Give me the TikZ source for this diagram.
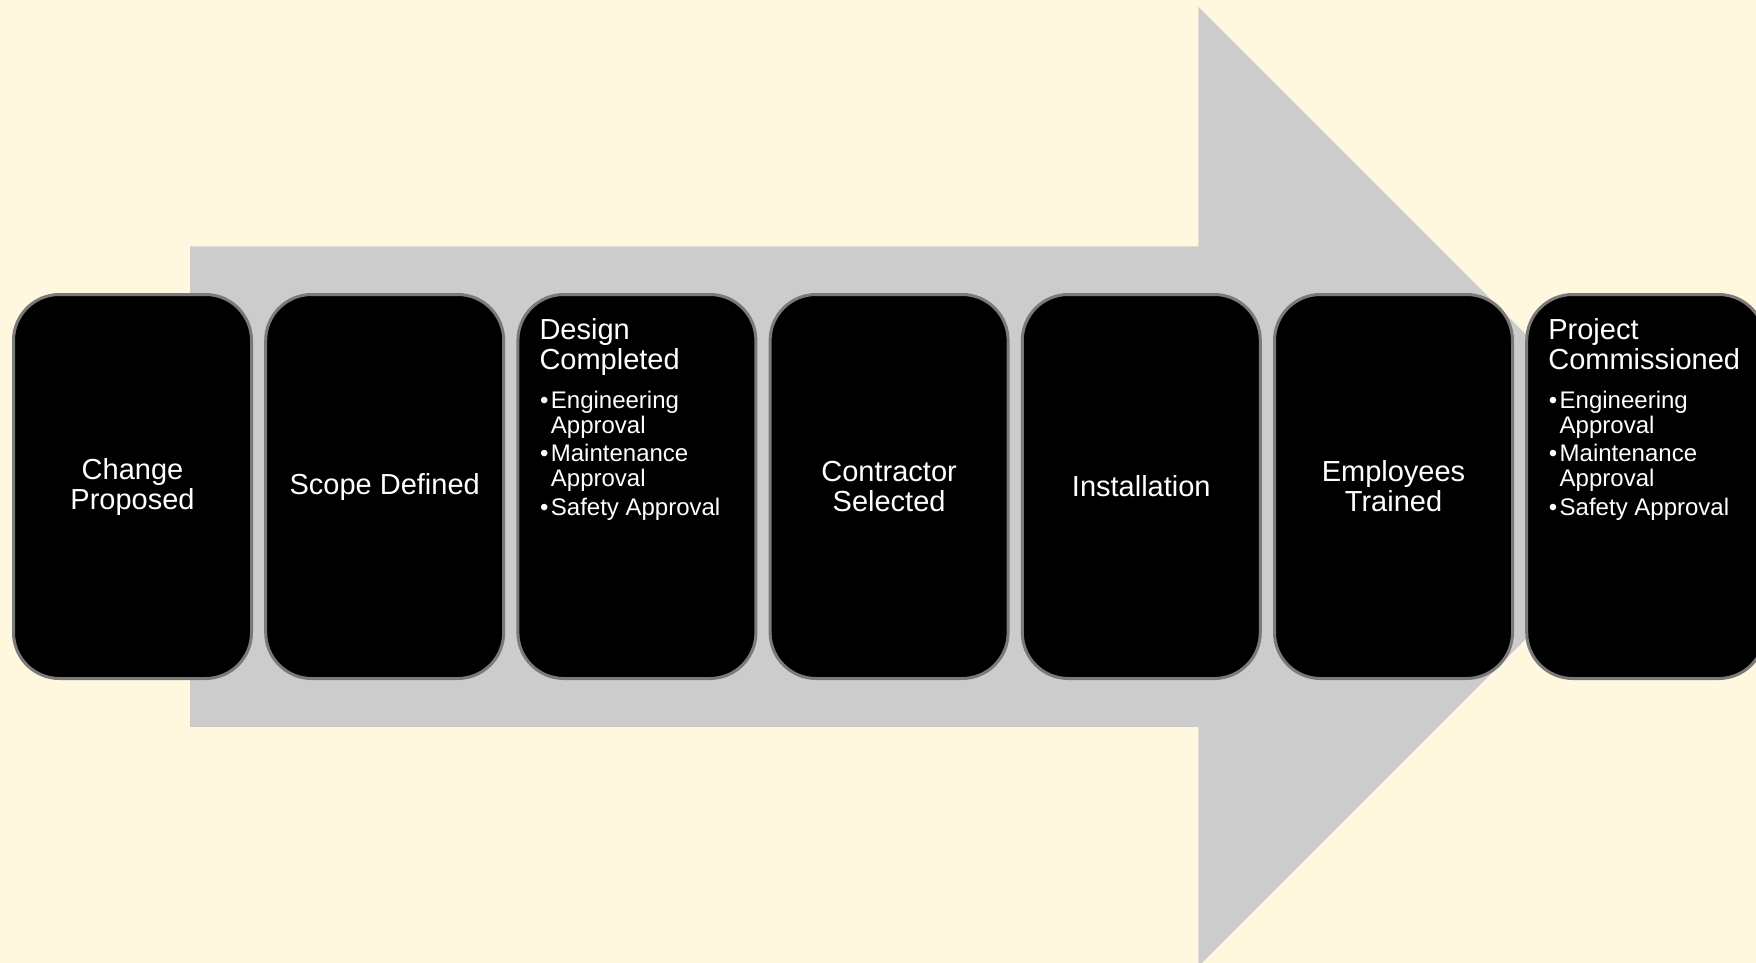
\documentclass[tikz,border=0pt]{standalone}
\usepackage{fontspec}
\setmainfont{Liberation Sans}
\definecolor{bgcream}{HTML}{FFF8DF}
\definecolor{arrowgray}{HTML}{CCCCCC}
\definecolor{edgegray}{HTML}{7A7A7A}
\begin{document}
\begin{tikzpicture}[x=1pt,y=-1pt,
  stage/.style={rectangle, rounded corners=46pt, fill=black, draw=edgegray,
    line width=3pt, minimum width=238pt, minimum height=384pt, inner sep=0pt,
    text=white, align=center, font=\fontsize{29}{30}\selectfont},
  stagetitle/.style={anchor=base west, inner sep=0pt, text=white, align=left,
    font=\fontsize{29}{30}\selectfont},
  stageitems/.style={anchor=base west, inner sep=0pt, text=white, align=left,
    font=\fontsize{24}{25}\selectfont}]
\useasboundingbox (0,0) rectangle (1756,963);
\fill[bgcream] (0,0) rectangle (1756,963);
\clip (0,0) rectangle (1756,963);
% big arrow
\fill[arrowgray] (190,246.4) -- (1198.4,246.4) -- (1198.4,6.7) -- (1678.3,486.6)
  -- (1198.4,966.5) -- (1198.4,726.9) -- (190,726.9) -- cycle;
% stages
\node[stage] (b1) at (132.5,486.5) {Change\\Proposed};
\node[stage] (b2) at (384.7,486.5) {Scope Defined};
\node[stage] (b3) at (636.9,486.5) {};
\node[stage] (b4) at (889.1,486.5) {Contractor\\Selected};
\node[stage] (b5) at (1141.3,486.5) {Installation};
\node[stage] (b6) at (1393.5,486.5) {Employees\\Trained};
\node[stage] (b7) at (1645.7,486.5) {};
% texts in boxes 3 and 7 (anchored at the baseline of their last line)
\node[stagetitle] (t3) at ([shift={(22.9,76)}]b3.north west) {Design\\Completed};
\node[stageitems] (l3) at ([shift={(34.3,222)}]b3.north west)
  {\llap{•\hspace{2.5pt}}Engineering\\Approval\\[3.5pt]\llap{•\hspace{2.5pt}}Maintenance\\Approval\\[3.5pt]\llap{•\hspace{2.5pt}}Safety Approval};
\node[stagetitle] (t7) at ([shift={(22.9,76)}]b7.north west) {Project\\Commissioned};
\node[stageitems] (l7) at ([shift={(34.3,222)}]b7.north west)
  {\llap{•\hspace{2.5pt}}Engineering\\Approval\\[3.5pt]\llap{•\hspace{2.5pt}}Maintenance\\Approval\\[3.5pt]\llap{•\hspace{2.5pt}}Safety Approval};
\end{tikzpicture}
\end{document}
